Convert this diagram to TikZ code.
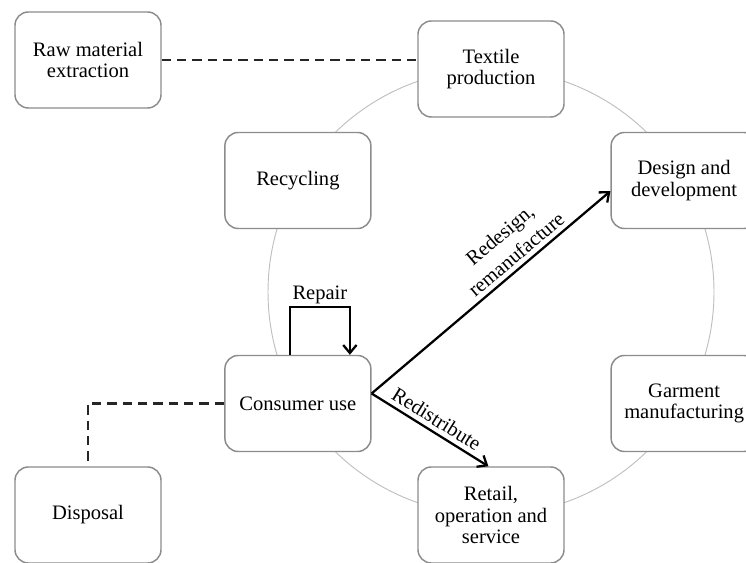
\documentclass[tikz,border=0pt]{standalone}
\usepackage{fontspec}
\setmainfont{Liberation Serif}
\usetikzlibrary{calc,arrows.meta}

\begin{document}
\begin{tikzpicture}[x=0.75pt,y=0.75pt,
  box/.style={draw=black!45, line width=1.1pt, rounded corners=10pt, fill=white,
    minimum width=109.5pt, minimum height=72pt, align=center,
    font=\fontsize{15.4}{16}\selectfont},
  flow/.style={line width=1.7pt, -{Straight Barb[length=6pt,width=10pt,line width=1.7pt]}},
  link/.style={dash pattern=on 7pt off 4.5pt, line width=1.6pt, black!85},
  lbl/.style={font=\fontsize{15.4}{19}\selectfont, align=center}]
\useasboundingbox (0,0) rectangle (746,563);
\coordinate (O) at (491,271);

\draw[black!25, line width=0.7pt] (O) circle[radius=223];

\node[box] (txt)  at ([shift={(90:223)}]O)  {Textile\\production};
\node[box] (des)  at ([shift={(30:223)}]O)  {Design and\\development};
\node[box] (garm) at ([shift={(-30:223)}]O) {Garment\\manufacturing};
\node[box] (ret)  at ([shift={(-90:223)}]O) {Retail,\\operation and\\service};
\node[box] (cons) at ([shift={(210:223)}]O) {Consumer use};
\node[box] (rec)  at ([shift={(150:223)}]O) {Recycling};
\node[box] (raw)  at (88,503) {Raw material\\extraction};
\node[box] (disp) at (88,48) {Disposal};

\draw[link] (raw.east) -- (raw.east -| txt.west);
\draw[link] (cons.west) -| (disp.north);

\draw[flow] ([yshift=7.5pt]cons.east) -- node[lbl, sloped, above, pos=0.64] {Redesign,\\remanufacture} ([yshift=-8pt]des.west);
\draw[flow] ([yshift=7.5pt]cons.east) -- node[lbl, sloped, above] {Redistribute} ([xshift=-2pt]ret.north);
\draw[flow] ([xshift=-6pt]cons.north) -- ++(0,48) -| node[lbl, above, pos=0.25, inner sep=1pt] {Repair} ([xshift=39pt]cons.north); %%loop
\end{tikzpicture}
\end{document}
